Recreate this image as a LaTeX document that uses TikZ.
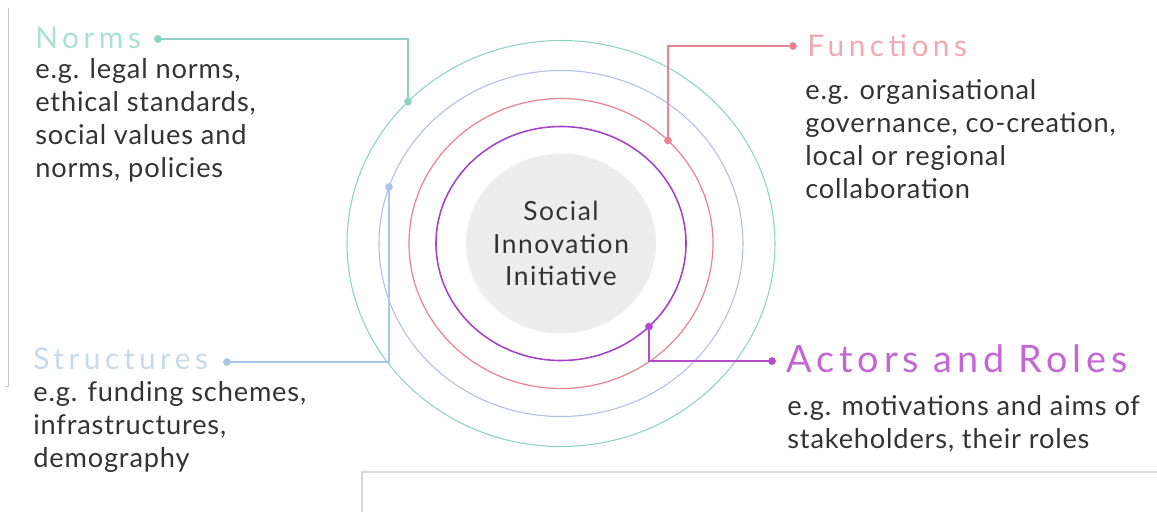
\documentclass[tikz,border=0pt]{standalone}
\usepackage{fontspec}
\setmainfont{Lato}
\newfontfamily\bodyfont[LetterSpace=3]{Lato}
\newfontfamily\widefont[LetterSpace=6]{Lato}
\newfontfamily\headfont[LetterSpace=15]{Lato}
\newfontfamily\bigheadfont[LetterSpace=13]{Lato}
\definecolor{normcol}{HTML}{8CD2C3}
\definecolor{normtext}{HTML}{ABE0D5}
\definecolor{funccol}{HTML}{E8848F}
\definecolor{functext}{HTML}{F0A8B2}
\definecolor{strucol}{HTML}{A9C7E6}
\definecolor{strutext}{HTML}{C6DAEB}
\definecolor{actcol}{HTML}{B44CC8}
\definecolor{acttext}{HTML}{C466D4}
\definecolor{ringblue}{HTML}{AEBFE2}
\definecolor{ringpurple}{HTML}{A444C6}
\definecolor{bodytext}{HTML}{333333}
\tikzset{
  head/.style={anchor=base west,inner sep=0pt,font=\headfont\fontsize{17}{20}\selectfont},
  body/.style={anchor=base west,inner sep=0pt,align=left,text=bodytext,
    font=\bodyfont\fontsize{15.5}{18.7}\selectfont},
  link/.style={line width=0.9pt},
}
\begin{document}
\begin{tikzpicture}[x=0.02cm,y=-0.02cm]
\useasboundingbox (0,0) rectangle (1157,512);
\pgfmathsetmacro{\cx}{561}
\pgfmathsetmacro{\cy}{243.5}
% page edges
\draw[gray!45,line width=0.5pt] (8,8) -- (8,386) -- (5,386);
\draw[gray!30,line width=0.8pt] (362,512) -- (362,472) -- (1157,472);
% rings
\draw[normcol,line width=0.6pt] (\cx,\cy) ellipse[x radius=214,y radius=203];
\draw[ringblue,line width=0.6pt] (\cx,\cy) ellipse[x radius=182,y radius=173];
\draw[funccol,line width=0.7pt] (\cx,\cy) ellipse[x radius=152,y radius=145];
\draw[ringpurple,line width=0.9pt] (\cx,\cy) ellipse[x radius=125,y radius=117];
\fill[gray!14] (\cx,\cy) ellipse[x radius=95,y radius=90];
\node[align=center,text=bodytext,font=\widefont\fontsize{15}{18.7}\selectfont]
  (sii) at (\cx,\cy) {Social\\Innovation\\Initiative};
% points where the links meet the rings
\pgfmathsetmacro{\ya}{\cy-203*sqrt(1-((408-\cx)/214)^2)}
\pgfmathsetmacro{\yb}{\cy-145*sqrt(1-((668-\cx)/152)^2)}
\pgfmathsetmacro{\yc}{\cy-173*sqrt(1-((389-\cx)/182)^2)}
\pgfmathsetmacro{\yd}{\cy+117*sqrt(1-((649-\cx)/125)^2)}
\coordinate (ringN) at (408,\ya);
\coordinate (ringF) at (668,\yb);
\coordinate (ringS) at (389,\yc);
\coordinate (ringA) at (649,\yd);
% labels (multi-line nodes sit on their last line)
\node[head,text=normtext] (norms) at (35,48) {Norms};
\node[head,text=functext] (funcs) at (807,56) {Functions};
\node[head,text=strutext] (structs) at (33,369) {Structures};
\node[head,text=acttext,font=\bigheadfont\fontsize{21.5}{25}\selectfont] (actors) at (786,372) {Actors and Roles};
\node[body] (normsx) at (35,177) {e.g. legal norms,\\ethical standards,\\social values and\\norms, policies};
\node[body] (funcsx) at (805,198) {e.g. organisational\\governance, co-creation,\\local or regional\\collaboration};
\node[body] (structsx) at (33,467) {e.g. funding schemes,\\infrastructures,\\demography};
\node[body] (actorsx) at (787,448) {e.g. motivations and aims of\\stakeholders, their roles};
% links
\coordinate (normsdot) at (158,39);
\coordinate (funcsdot) at (793,46);
\coordinate (structsdot) at (227,362);
\coordinate (actorsdot) at (772,361);
\draw[link,normcol] (normsdot) -| (ringN);
\draw[link,funccol] (funcsdot) -| (ringF);
\draw[link,strucol] (structsdot) -| (ringS);
\draw[link,actcol] (actorsdot) -| (ringA);
\foreach \p/\c in {normsdot/normcol,ringN/normcol,funcsdot/funccol,ringF/funccol,
  structsdot/strucol,ringS/strucol,actorsdot/actcol,ringA/actcol}
  \fill[\c] (\p) circle(2.2pt);
\end{tikzpicture}
\end{document}
